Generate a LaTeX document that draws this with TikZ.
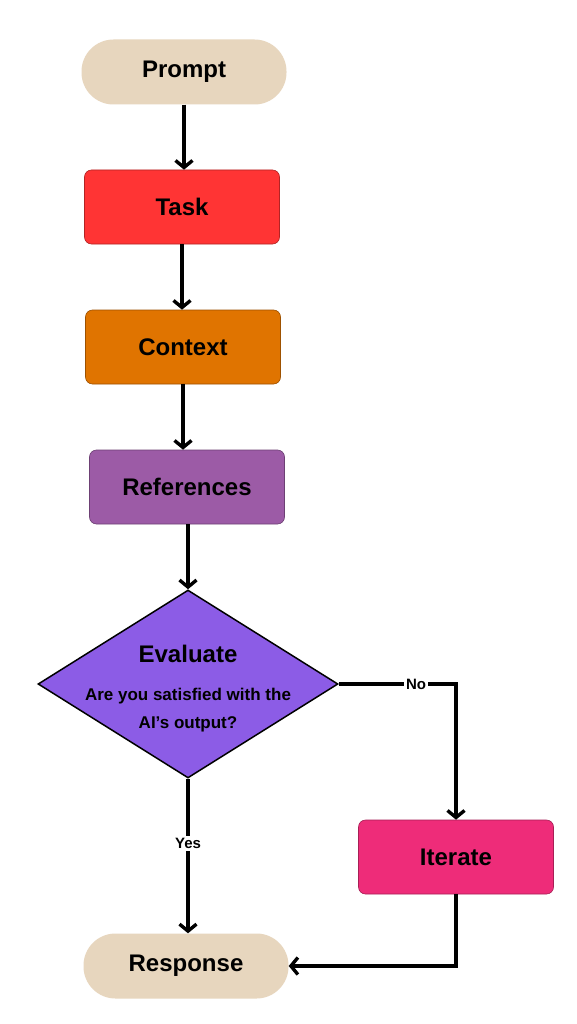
\documentclass[tikz,border=0pt]{standalone}
\usepackage{fontspec}
\setmainfont{Liberation Sans}
\usetikzlibrary{arrows.meta}
\usetikzlibrary{shapes.geometric}
\definecolor{sand}{HTML}{E7D6BE}
\definecolor{taskred}{HTML}{FF3434}
\definecolor{contextorange}{HTML}{E07400}
\definecolor{refpurple}{HTML}{9C5BA6}
\definecolor{evalviolet}{HTML}{8C5CE6}
\definecolor{iteratepink}{HTML}{EE2C79}
\tikzset{terminal/.style = {fill=sand, rounded corners=32pt, minimum width=205pt, minimum height=65pt, font=\bfseries\fontsize{24}{28}\selectfont}}
\tikzset{stepbox/.style = {fill=#1, draw=#1!70!black, line width=0.6pt, rounded corners=7pt, minimum width=195pt, minimum height=74pt, font=\bfseries\fontsize{24}{28}\selectfont}}
\tikzset{decision/.style = {diamond, fill=evalviolet, draw=black, line width=1.5pt, inner sep=0pt, minimum width=300pt, minimum height=188pt}}
\tikzset{evaltext/.style = {align=center, inner sep=0pt, font=\bfseries\fontsize{17}{28}\selectfont}}
\tikzset{flow/.style = {line width=3.4pt, -{Straight Barb[length=7pt, width=17pt]}}}
\tikzset{answer/.style = {fill=white, inner sep=2pt, font=\bfseries\fontsize{15}{18}\selectfont}}

\begin{document}
\begin{tikzpicture}[x=1pt,y=-1pt]
    \useasboundingbox [fill=white] (0,0) rectangle (576,1024);
    \node [terminal] (prompt) at (184,72) {Prompt};
    \node [stepbox=taskred] (task) at (182,207) {Task};
    \node [stepbox=contextorange] (context) at (183,347) {Context};
    \node [stepbox=refpurple] (refs) at (187,487) {References};
    \node [decision] (eval) at (188,684) {};
    \node [evaltext] (evaltxt) at (188,689) {{\fontsize{24}{28}\selectfont Evaluate}\\[10pt]Are you satisfied with the\\AI’s output?};
    \node [stepbox=iteratepink] (iterate) at (456,857) {Iterate};
    \node [terminal] (response) at (186,966) {Response};
    \draw [flow] (prompt.south) -- (prompt.south |- task.north);
    \draw [flow] (task.south) -- (task.south |- context.north);
    \draw [flow] (context.south) -- (context.south |- refs.north);
    \draw [flow] (refs.south -| eval.north) -- (eval.north);
    \draw [flow] (eval.south) -- (eval.south |- response.north) node [answer, pos=0.42] {Yes};
    \draw [flow] (eval.east) -| (iterate.north) node [answer, pos=0.33] {No};
    \draw [flow] (iterate.south) |- (response.east);
\end{tikzpicture}
\end{document}
